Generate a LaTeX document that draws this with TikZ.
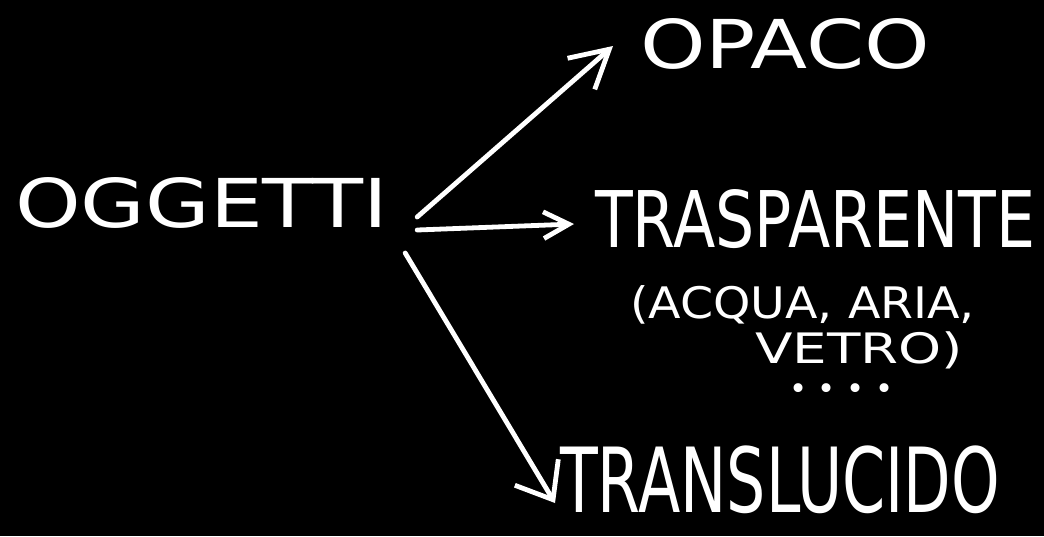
\documentclass[tikz,border=0pt]{standalone}
\usepackage{fontspec}
\setmainfont{DejaVu Sans}
\usetikzlibrary{arrows.meta}
\begin{document}
\begin{tikzpicture}[x=0.75pt,y=-0.75pt,
  txt/.style={inner sep=0pt, outer sep=0pt, text=white, anchor=west},
  conn/.style={draw=white, line width=3.6pt, line cap=round, line join=round}]
\fill[black] (0,0) rectangle (1044,536);
\useasboundingbox (0,0) rectangle (1044,536);
\node[txt] (og) at (15,203) {\resizebox{279.75pt}{37.5pt}{OGGETTI}};
\node[txt] (op) at (640,44) {\resizebox{217.5pt}{37.5pt}{OPACO}};
\node[txt] (tr) at (595,219) {\resizebox{330pt}{43.5pt}{TRASPARENTE}};
\node[txt] (ex1) at (630,305) {\resizebox*{258.75pt}{29pt}{(ACQUA, ARIA,}};
\node[txt] (ex2) at (755,350) {\resizebox*{156pt}{28pt}{VETRO)}};
\node[txt, anchor=base west] (dots) at (789,399) {\fontsize{23pt}{23pt}\selectfont •\hspace{8pt}•\hspace{8pt}•\hspace{8pt}•};
\node[txt] (tl) at (560,480) {\resizebox{330pt}{50pt}{TRANSLUCIDO}};
\draw[conn, -{Straight Barb[length=28pt,width=31pt]}]
  ([shift={(29,14)}]og.east) -- ([shift={(-27,2)}]op.west);
\draw[conn, -{Straight Barb[length=19pt,width=20pt]}]
  ([shift={(29,27)}]og.east) -- ([shift={(-21,5)}]tr.west);
\draw[conn, -{Straight Barb[length=24pt,width=38pt]}]
  ([shift={(17,50)}]og.east) -- ([shift={(-5,23)}]tl.west);
\end{tikzpicture}
\end{document}
